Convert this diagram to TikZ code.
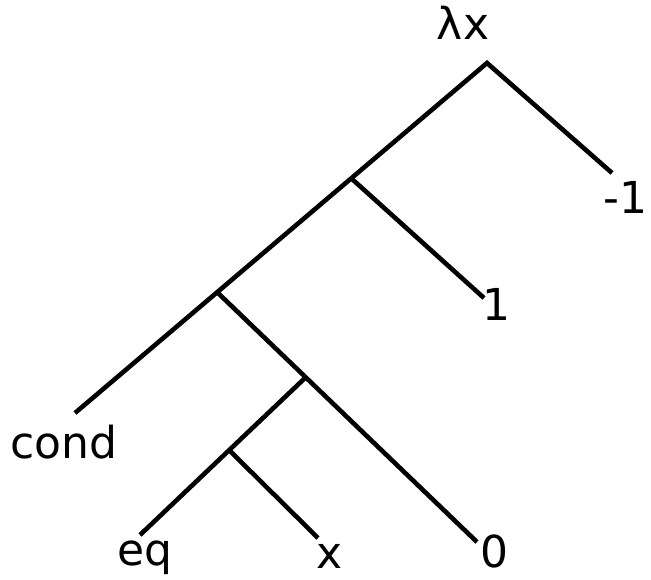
\documentclass[tikz,border=0pt]{standalone}
\usepackage{fontspec}
\setmainfont{DejaVu Sans}
\usepackage{tikz}

\begin{document}
\begin{tikzpicture}[x=1pt,y=-1pt,line width=4.6pt,
    lbl/.style={anchor=base,inner sep=0pt,font=\fontsize{44}{48}\selectfont}]
  \useasboundingbox (0,0) rectangle (651,580);
  % branch points
  \coordinate (root) at (487,63);
  \coordinate (app1) at (352,179);
  \coordinate (app2) at (218,293);
  \coordinate (app3) at (305,378);
  \coordinate (app4) at (229,450);
  % leaf ends
  \coordinate (condend) at (75,413);
  \coordinate (zeroend) at (477,542);
  \coordinate (eqend) at (140,535);
  \coordinate (xend) at (318,538);
  \coordinate (oneend) at (484,298);
  \coordinate (negend) at (612,173);
  \draw (negend)--(root)--(condend);
  \draw (app1)--(oneend);
  \draw (app2)--(zeroend);
  \draw (app3)--(eqend);
  \draw (app4)--(xend);
  % labels
  \node[lbl] (lam) at (463,40) {λx};
  \node[lbl] (neg) at (650,214) [anchor=base east] {-1};
  \node[lbl] (one) at (496,320) {1};
  \node[lbl] (cond) at (64,458) {cond};
  \node[lbl] (zero) at (494,567) {0};
  \node[lbl] (eq) at (145,565) {eq};
  \node[lbl] (x) at (330,568) {x};
\end{tikzpicture}
\end{document}
